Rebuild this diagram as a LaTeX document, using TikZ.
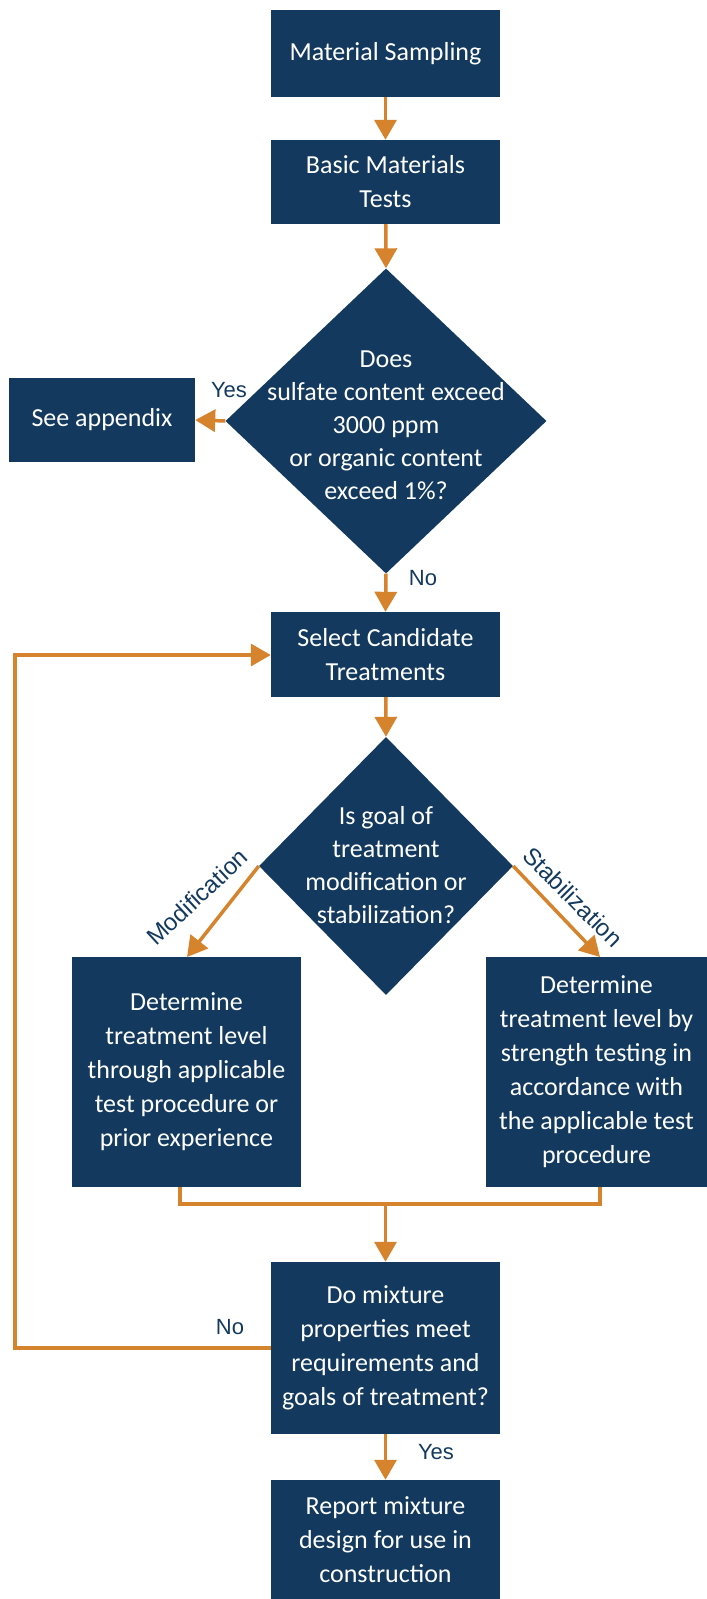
\documentclass[tikz,border=0pt]{standalone}
\usepackage{fontspec}
\setmainfont{Carlito}
\newfontfamily\lblfont{Liberation Sans}
\usetikzlibrary{shapes.geometric,arrows.meta}
\definecolor{navy}{HTML}{133A5E}
\definecolor{orng}{HTML}{D6832D}
\begin{document}
\begin{tikzpicture}[x=1pt,y=-1pt,
 box/.style={rectangle, fill=navy, text=white, align=center, inner sep=0pt, font=\fontsize{26}{34}\selectfont},
 dia/.style={diamond, fill=navy, inner sep=0pt},
 dtext/.style={text=white, align=center, inner sep=0pt, font=\fontsize{26}{33}\selectfont},
 conn/.style={draw=orng, line width=3.5pt, -{Triangle[length=20pt,width=22pt]}},
 plain/.style={draw=orng, line width=3.5pt},
 lbl/.style={text=navy, inner sep=0pt, font=\lblfont\fontsize{22}{26}\selectfont},
 rlbl/.style={text=navy, inner sep=0pt, font=\lblfont\fontsize{24}{28}\selectfont}]
\useasboundingbox (0,0) rectangle (707,1599);
% nodes
\node[box, minimum width=229pt, minimum height=87pt] (ms) at (385.5,53.5) {Material Sampling};
\node[box, minimum width=229pt, minimum height=84pt] (bm) at (385.5,182) {Basic Materials\\Tests};
\node[dia, minimum width=321pt, minimum height=305pt] (d1) at (386,421) {};
\node[dtext] (d1t) at (386,425) {Does\\sulfate content exceed\\3000 ppm\\or organic content\\exceed 1\%?};
\node[box, minimum width=186pt, minimum height=84pt] (ap) at (102,420) {See appendix};
\node[box, minimum width=229pt, minimum height=85pt] (sc) at (385.5,654.5) {Select Candidate\\Treatments};
\node[dia, minimum width=254pt, minimum height=258pt] (d2) at (386,866) {};
\node[dtext] (d2t) at (386,865) {Is goal of\\treatment\\modification or\\stabilization?};
\node[box, minimum width=229pt, minimum height=230pt] (lb) at (186.5,1072) {Determine\\treatment level\\through applicable\\test procedure or\\prior experience};
\node[box, minimum width=221pt, minimum height=230pt] (rb) at (596.5,1072) {Determine\\treatment level by\\strength testing in\\accordance with\\the applicable test\\procedure};
\node[box, minimum width=229pt, minimum height=172pt] (dm) at (385.5,1348) {Do mixture\\properties meet\\requirements and\\goals of treatment?};
\node[box, minimum width=229pt, minimum height=119pt] (rp) at (385.5,1539.5) {Report mixture\\design for use in\\construction};
% coordinates
\coordinate (mL) at (180,1204);
\coordinate (mR) at (600,1204);
\coordinate (mC) at (385.5,1204);
\coordinate (ft) at (15,655);
\coordinate (lt) at (187,957);
\coordinate (rt) at (600,957);
% connectors
\draw[conn] (ms) -- (bm);
\draw[conn] (bm) -- (d1.north);
\draw[conn] (d1.west) -- (ap.east);
\draw[conn] (d1.south) -- (sc.north);
\draw[conn] (sc) -- (d2.north);
\draw[conn] (d2.west) -- (lt);
\draw[conn] (d2.east) -- (rt);
\draw[plain] (lb.south -| mL) -- (mL) -- (mR) -- (rb.south -| mR);
\draw[conn] (mC) -- (dm.north);
\draw[conn] (dm.west) -| (ft) -- (sc.west |- ft);
\draw[conn] (dm) -- (rp);
% labels
\node[lbl] (yes1) at (229,390) {Yes};
\node[lbl] (no1) at (423,578) {No};
\node[rlbl, rotate=43] (modl) at (197,897) {Modification};
\node[rlbl, rotate=-45] (stabl) at (573,897) {Stabilization};
\node[lbl] (no2) at (230,1327) {No};
\node[lbl] (yes2) at (436,1452) {Yes};
\end{tikzpicture}
\end{document}
